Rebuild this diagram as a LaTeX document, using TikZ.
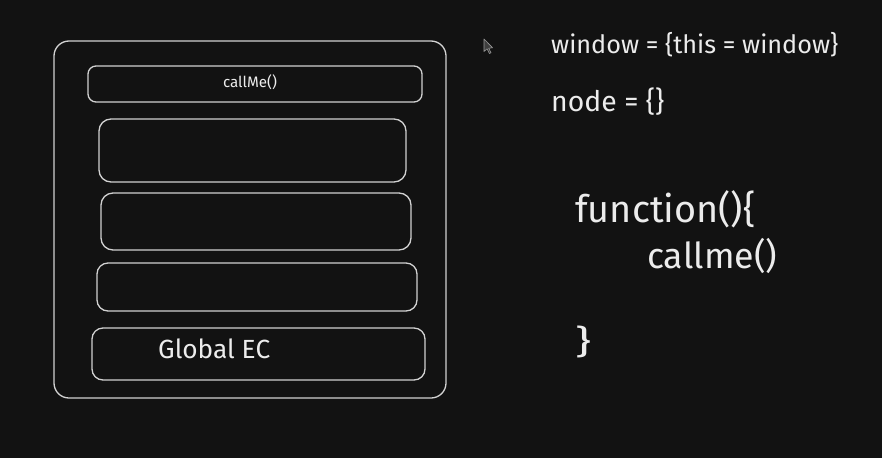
\documentclass[tikz,border=0pt]{standalone}
\usepackage{fontspec}
\setmainfont{Fira Sans}
\usepackage{graphicx}
\definecolor{bg}{HTML}{121212}
\definecolor{ln}{HTML}{D2D2D2}
\definecolor{tx}{HTML}{ECECEC}
\begin{document}
\begin{tikzpicture}[x=1pt,y=-1pt,
  frame/.style={draw=ln, line width=1.3pt, inner sep=0pt, rounded corners=#1},
  lbl/.style={text=tx, inner sep=0pt, anchor=base west},
  lblc/.style={text=tx, inner sep=0pt, anchor=base}]
\fill[bg] (0,0) rectangle (882,458);
\useasboundingbox (0,0) rectangle (882,458);
% stack frame
\node[frame=15pt, minimum width=392pt, minimum height=357pt] (outer) at (250,219.5) {};
\node[frame=8pt, minimum width=334pt, minimum height=36pt] (b1) at (255,84) {};
\node[frame=12pt, minimum width=307pt, minimum height=63pt] (b2) at (252.5,150.5) {};
\node[frame=12pt, minimum width=310pt, minimum height=57pt] (b3) at (256,221.5) {};
\node[frame=11pt, minimum width=320pt, minimum height=48pt] (b4) at (257,287) {};
\node[frame=11pt, minimum width=333pt, minimum height=52pt] (b5) at (258.5,354) {};
\node[lblc] (t1) at (250,87) {\resizebox{54pt}{!}{callMe()}};
\node[lbl] (t5) at (158,358) {\resizebox{112pt}{!}{Global EC}};
% cursor
\draw[draw=gray!80, fill=gray!40!bg, line width=0.6pt, line join=round]
  (484,39) -- (484,51.5) -- (487,48.8) -- (489.4,53.5) -- (491,52.8) -- (488.7,48.2) -- (492.6,47.8) -- cycle;
% right texts
\node[lbl] (w) at (551,53) {\resizebox{287pt}{!}{window = \{this = window\}}};
\node[lbl] (n) at (551,111) {\resizebox{113pt}{!}{node = \{\}}};
\node[lbl] (f) at (575,222) {\resizebox{180pt}{!}{function()\{}};
\node[lbl] (c) at (647,268) {\resizebox{130pt}{!}{callme()}};
\node[text=tx, inner sep=0pt, anchor=north west] (e) at (575,326) {\resizebox*{16pt}{32pt}{\}}};
\end{tikzpicture}
\end{document}
